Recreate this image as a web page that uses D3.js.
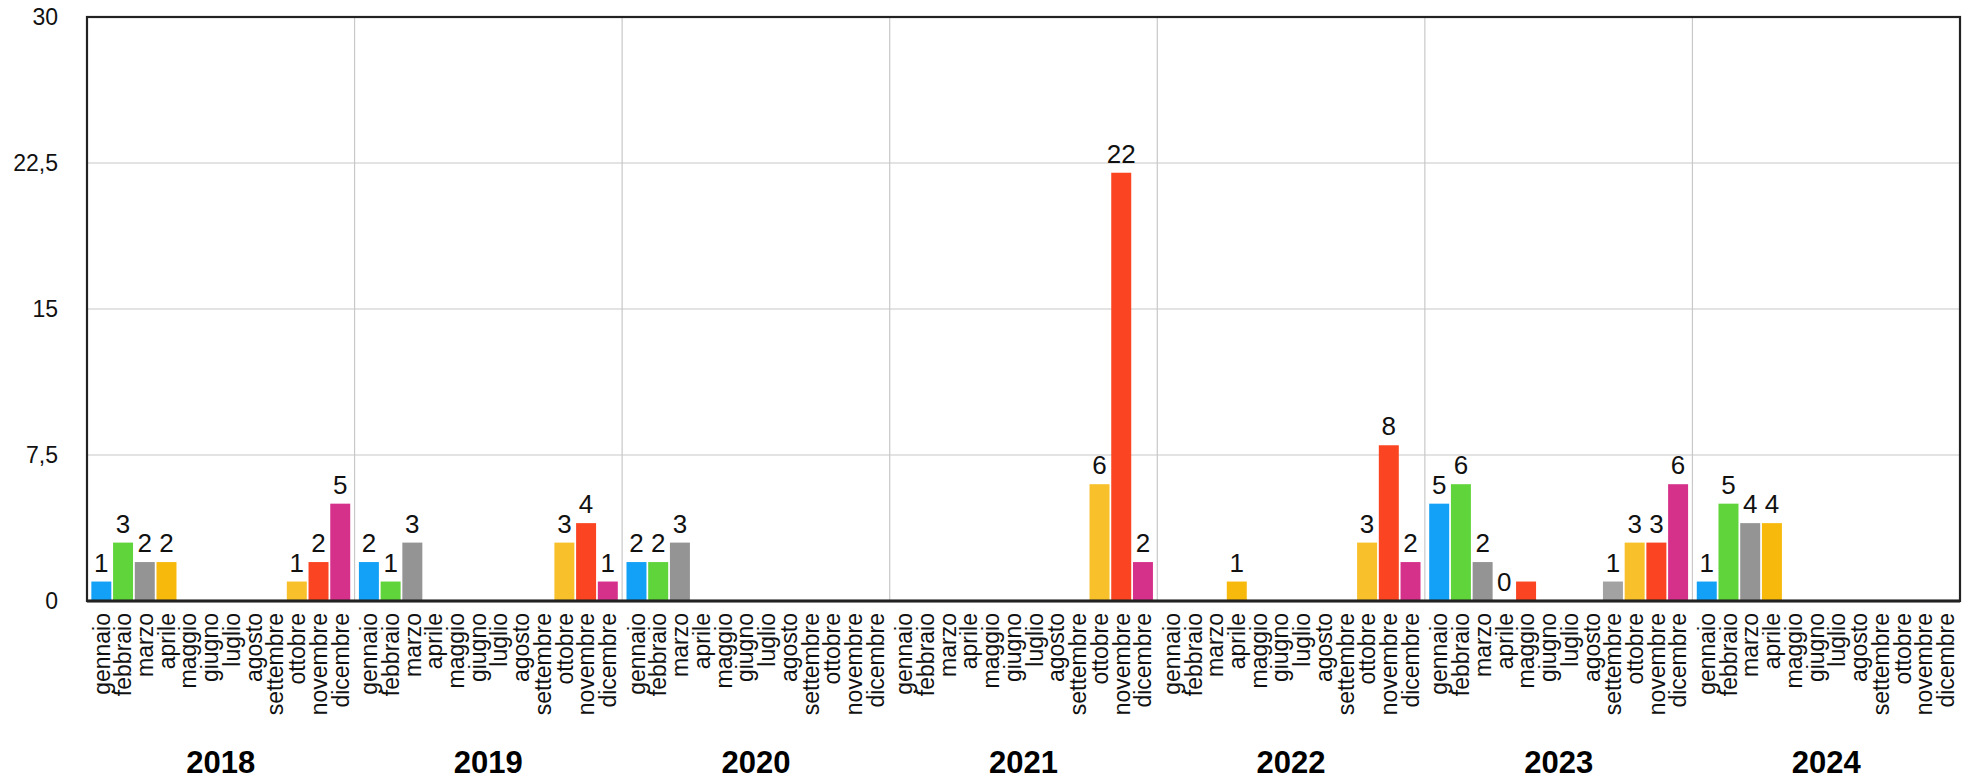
<!DOCTYPE html>
<html>
<head>
<meta charset="utf-8">
<script src="https://cdn.jsdelivr.net/npm/d3@7"></script>
<style>
  html, body { margin: 0; padding: 0; background: #fff; }
  svg { display: block; font-family: "Liberation Sans", Arial, Helvetica, sans-serif; }
</style>
</head>
<body>
<svg id="chart" width="1970" height="779"></svg>
<script>
// Categories
const years = ["2018", "2019", "2020", "2021", "2022", "2023", "2024"];
const months = ["gennaio", "febbraio", "marzo", "aprile", "maggio", "giugno",
                "luglio", "agosto", "settembre", "ottobre", "novembre", "dicembre"];

// Monthly counts, one array per year
const values2018 = [1, 3, 2, 2, 0, 0, 0, 0, 0, 1, 2, 5];
const values2019 = [2, 1, 3, 0, 0, 0, 0, 0, 0, 3, 4, 1];
const values2020 = [2, 2, 3, 0, 0, 0, 0, 0, 0, 0, 0, 0];
const values2021 = [0, 0, 0, 0, 0, 0, 0, 0, 0, 6, 22, 2];
const values2022 = [0, 0, 0, 1, 0, 0, 0, 0, 0, 3, 8, 2];
const values2023 = [5, 6, 2, 0, 1, 0, 0, 0, 1, 3, 3, 6];
const values2024 = [1, 5, 4, 4, 0, 0, 0, 0, 0, 0, 0, 0];

// Months whose value label is printed in 2023 (maggio has no label, aprile shows 0)
const labelled2023 = [true, true, true, true, false, false, false, false, true, true, true, true];

// Y axis ticks
const yTicks = [0, 7.5, 15, 22.5, 30];

// One colour per month
const monthColors = ["#12a1f6", "#5fd43b", "#949494", "#f8b90d", "#fb4421", "#d5318a",
                     "#12a1f6", "#5fd43b", "#a2a2a2", "#f8c02a", "#fb4421", "#d5318a"];

const valuesByYear = [values2018, values2019, values2020, values2021, values2022, values2023, values2024];

const data = [];
years.forEach((yr, i) => {
  months.forEach((m, j) => {
    const v = valuesByYear[i][j];
    let showLabel = v > 0;
    if (yr === "2023") showLabel = labelled2023[j];
    data.push({ year: yr, month: m, value: v, showLabel, color: monthColors[j] });
  });
});

const svg = d3.select("#chart");
const plotLeft = 87, plotRight = 1960, plotTop = 17, plotBottom = 601;

const x0 = d3.scaleBand().domain(years).range([plotLeft, plotRight]).padding(0);
const x1 = d3.scaleBand().domain(months).range([0, x0.bandwidth()])
  .paddingInner(0.08).paddingOuter(0.2);
const y = d3.scaleLinear().domain([0, 30]).range([plotBottom, plotTop]);

const itLocale = d3.formatLocale({ decimal: ",", thousands: ".", grouping: [3], currency: ["", "€"] });
const fmt = itLocale.format("~f");

// Horizontal grid
svg.append("g")
  .selectAll("line")
  .data(yTicks.filter(t => t > 0 && t < 30))
  .join("line")
  .attr("x1", plotLeft).attr("x2", plotRight)
  .attr("y1", d => y(d)).attr("y2", d => y(d))
  .attr("stroke", "#c8c8c8").attr("stroke-width", 1.2);

// Vertical grid at year boundaries
svg.append("g")
  .selectAll("line")
  .data(years.slice(1))
  .join("line")
  .attr("x1", d => x0(d)).attr("x2", d => x0(d))
  .attr("y1", plotTop).attr("y2", plotBottom)
  .attr("stroke", "#c8c8c8").attr("stroke-width", 1.2);

// Bars
svg.append("g")
  .selectAll("rect")
  .data(data.filter(d => d.value > 0))
  .join("rect")
  .attr("x", d => x0(d.year) + x1(d.month))
  .attr("width", x1.bandwidth())
  .attr("y", d => y(d.value))
  .attr("height", d => y(0) - y(d.value))
  .attr("fill", d => d.color);

// Value labels
svg.append("g")
  .selectAll("text")
  .data(data.filter(d => d.showLabel))
  .join("text")
  .attr("x", d => x0(d.year) + x1(d.month) + x1.bandwidth() / 2)
  .attr("y", d => y(d.value) - 10)
  .attr("text-anchor", "middle")
  .attr("font-size", 26)
  .attr("fill", "#111")
  .text(d => d.value);

// Y axis
const yAxis = svg.append("g")
  .attr("transform", `translate(${plotLeft},0)`)
  .call(d3.axisLeft(y).tickValues(yTicks).tickSize(0).tickPadding(29).tickFormat(fmt));
yAxis.select(".domain").remove();
yAxis.selectAll("text")
  .attr("font-size", 23)
  .attr("fill", "#111")
  .attr("font-family", "Liberation Sans, Arial, sans-serif");

// Month labels per year
years.forEach(yr => {
  const g = svg.append("g")
    .attr("transform", `translate(${x0(yr)},${plotBottom})`)
    .call(d3.axisBottom(x1).tickSize(0).tickPadding(0));
  g.select(".domain").remove();
  g.selectAll("text")
    .attr("font-size", 23)
    .attr("fill", "#111")
    .attr("font-family", "Liberation Sans, Arial, sans-serif")
    .attr("text-anchor", "end")
    .attr("transform", "rotate(-90)")
    .attr("x", -12)
    .attr("y", 0)
    .attr("dy", "0.36em");
});

// Year labels
svg.append("g")
  .selectAll("text")
  .data(years)
  .join("text")
  .attr("x", d => x0(d) + x0.bandwidth() / 2)
  .attr("y", 773)
  .attr("text-anchor", "middle")
  .attr("font-size", 31)
  .attr("font-weight", "bold")
  .attr("fill", "#000")
  .text(d => d);

// Frame
svg.append("rect")
  .attr("x", plotLeft).attr("y", plotTop)
  .attr("width", plotRight - plotLeft).attr("height", plotBottom - plotTop)
  .attr("fill", "none")
  .attr("stroke", "#222")
  .attr("stroke-width", 2.2);
svg.append("line")
  .attr("x1", plotLeft).attr("x2", plotRight)
  .attr("y1", plotBottom).attr("y2", plotBottom)
  .attr("stroke", "#222").attr("stroke-width", 3);
</script>
</body>
</html>
